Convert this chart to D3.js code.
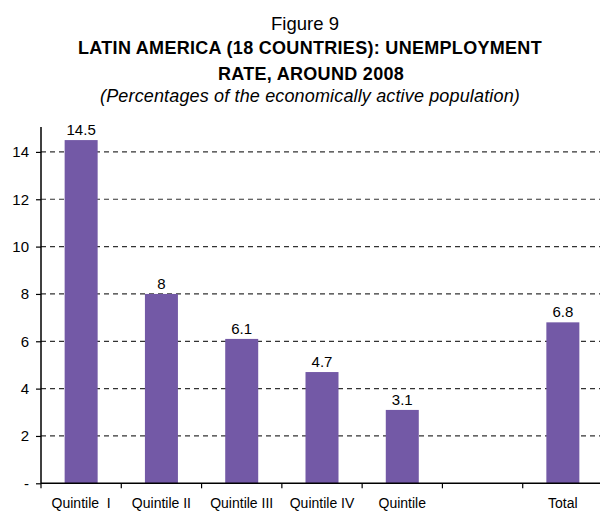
<!DOCTYPE html>
<html>
<head>
<meta charset="utf-8">
<script src="https://cdn.jsdelivr.net/npm/d3@7"></script>
<style>
  body { margin: 0; background: #fff; }
  svg { display: block; font-family: "Liberation Sans", Arial, Helvetica, sans-serif; }
</style>
</head>
<body>
<svg id="chart" width="600" height="511"></svg>
<script>
// Unemployment rate by income quintile, Latin America (18 countries), around 2008
const categories = ["Quintile  I", "Quintile II", "Quintile III", "Quintile IV", "Quintile", "", "Total"];
const values = [14.5, 8, 6.1, 4.7, 3.1, null, 6.8];
const valueLabels = ["14.5", "8", "6.1", "4.7", "3.1", "", "6.8"];
const yTicks = [0, 2, 4, 6, 8, 10, 12, 14];
const yTickLabels = ["-", "2", "4", "6", "8", "10", "12", "14"];

const svg = d3.select("#chart");
const margin = { left: 41, top: 127 };
const barColor = "#7359a6";

const x = d3.scaleBand()
  .domain(d3.range(categories.length))
  .range([margin.left, 603])
  .paddingInner(0)
  .paddingOuter(0);

const y = d3.scaleLinear()
  .domain([0, 15])
  .range([483.3, 483.3 - 15 * 23.67]);

// Titles
svg.append("text").attr("x", 305).attr("y", 30).attr("text-anchor", "middle")
  .attr("font-size", 18.5).text("Figure 9");
svg.append("text").attr("x", 310).attr("y", 54).attr("text-anchor", "middle")
  .attr("font-size", 18).attr("font-weight", "bold").attr("letter-spacing", 0.3)
  .text("LATIN AMERICA (18 COUNTRIES): UNEMPLOYMENT");
svg.append("text").attr("x", 311).attr("y", 80).attr("text-anchor", "middle")
  .attr("font-size", 18).attr("font-weight", "bold").attr("letter-spacing", 0.3)
  .text("RATE, AROUND 2008");
svg.append("text").attr("x", 310).attr("y", 102).attr("text-anchor", "middle")
  .attr("font-size", 18).attr("font-style", "italic").attr("letter-spacing", 0.15)
  .text("(Percentages of the economically active population)");

// Dashed gridlines
svg.append("g").selectAll("line")
  .data(yTicks.filter(d => d > 0))
  .join("line")
  .attr("x1", margin.left).attr("x2", 600)
  .attr("y1", d => y(d)).attr("y2", d => y(d))
  .attr("stroke", "#333").attr("stroke-width", 1.2)
  .attr("stroke-dasharray", "5,4");

// Bars
const idx = d3.range(categories.length).filter(i => values[i] != null);
const bw = 33;
svg.append("g").selectAll("rect")
  .data(idx)
  .join("rect")
  .attr("x", i => x(i) + (x.bandwidth() - bw) / 2)
  .attr("width", bw)
  .attr("y", i => y(values[i]))
  .attr("height", i => y(0) - y(values[i]))
  .attr("fill", barColor);

// Value labels
svg.append("g").selectAll("text")
  .data(idx)
  .join("text")
  .attr("x", i => x(i) + x.bandwidth() / 2)
  .attr("y", i => y(values[i]) - 5)
  .attr("text-anchor", "middle")
  .attr("font-size", 15)
  .text(i => valueLabels[i]);

// Y axis
const yAxis = d3.axisLeft(y)
  .tickValues(yTicks)
  .tickFormat((d, i) => yTickLabels[i])
  .tickSize(5)
  .tickPadding(7);
const gy = svg.append("g").attr("transform", `translate(${margin.left},0)`).call(yAxis);
gy.select(".domain").remove();
gy.selectAll(".tick line").attr("stroke", "#000").attr("stroke-width", 1.2);
gy.selectAll(".tick text").attr("font-size", 15).attr("fill", "#000")
  .attr("font-family", "Liberation Sans, Arial, sans-serif");
svg.append("line")
  .attr("x1", margin.left).attr("x2", margin.left)
  .attr("y1", margin.top).attr("y2", y(0))
  .attr("stroke", "#000").attr("stroke-width", 1.5);

// X axis with ticks at category boundaries
const boundaries = d3.range(categories.length + 1).map(i => margin.left + i * x.step());
svg.append("line")
  .attr("x1", margin.left).attr("x2", 600)
  .attr("y1", y(0)).attr("y2", y(0))
  .attr("stroke", "#000").attr("stroke-width", 1.5);
svg.append("g").selectAll("line")
  .data(boundaries)
  .join("line")
  .attr("x1", d => d).attr("x2", d => d)
  .attr("y1", y(0)).attr("y2", y(0) + 5)
  .attr("stroke", "#000").attr("stroke-width", 1.2);
svg.append("g").selectAll("text")
  .data(d3.range(categories.length))
  .join("text")
  .attr("x", i => x(i) + x.bandwidth() / 2)
  .attr("y", 508)
  .attr("text-anchor", "middle")
  .attr("font-size", 14)
  .style("white-space", "pre")
  .text(i => categories[i]);
</script>
</body>
</html>
